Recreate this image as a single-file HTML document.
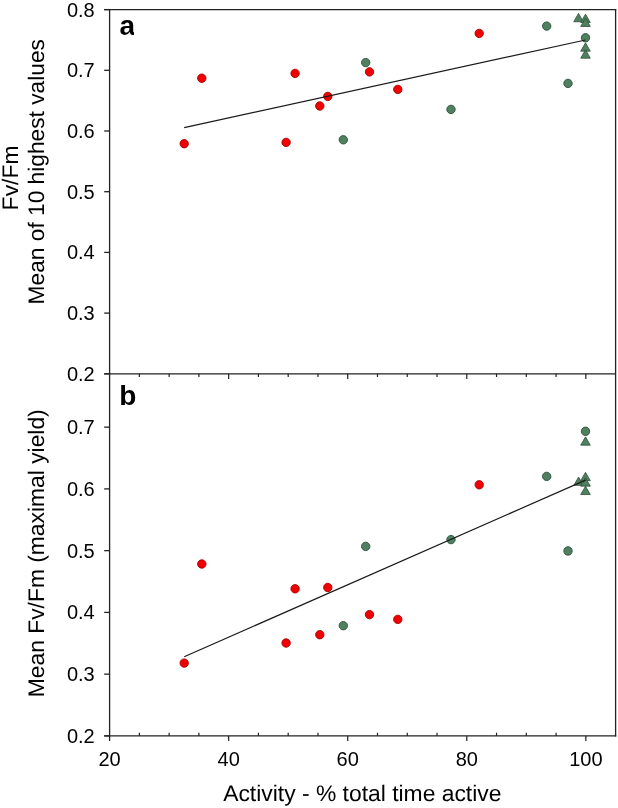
<!DOCTYPE html>
<html><head><meta charset="utf-8"><style>
html,body{margin:0;padding:0;background:#fff;width:618px;height:808px;overflow:hidden;}
svg{display:block;will-change:transform;}
text{font-family:"Liberation Sans",sans-serif;fill:#000;}
</style></head><body>
<svg width="618" height="808" viewBox="0 0 618 808">
<rect width="618" height="808" fill="#fff"/>
<line x1="104.20" y1="9.60" x2="616.30" y2="9.60" stroke="#222" stroke-width="1.3"/>
<line x1="615.60" y1="9.60" x2="615.60" y2="736.60" stroke="#222" stroke-width="1.3"/>
<line x1="109.60" y1="8.90" x2="109.60" y2="741.10" stroke="#222" stroke-width="1.3"/>
<line x1="104.20" y1="373.80" x2="615.60" y2="373.80" stroke="#222" stroke-width="1.3"/>
<line x1="104.20" y1="735.90" x2="616.30" y2="735.90" stroke="#222" stroke-width="1.3"/>
<line x1="104.20" y1="373.80" x2="109.60" y2="373.80" stroke="#222" stroke-width="1.3"/>
<text x="94.70" y="380.70" font-size="20" text-anchor="end" font-weight="normal" >0.2</text>
<line x1="104.20" y1="313.10" x2="109.60" y2="313.10" stroke="#222" stroke-width="1.3"/>
<text x="94.70" y="320.00" font-size="20" text-anchor="end" font-weight="normal" >0.3</text>
<line x1="104.20" y1="252.40" x2="109.60" y2="252.40" stroke="#222" stroke-width="1.3"/>
<text x="94.70" y="259.30" font-size="20" text-anchor="end" font-weight="normal" >0.4</text>
<line x1="104.20" y1="191.70" x2="109.60" y2="191.70" stroke="#222" stroke-width="1.3"/>
<text x="94.70" y="198.60" font-size="20" text-anchor="end" font-weight="normal" >0.5</text>
<line x1="104.20" y1="131.00" x2="109.60" y2="131.00" stroke="#222" stroke-width="1.3"/>
<text x="94.70" y="137.90" font-size="20" text-anchor="end" font-weight="normal" >0.6</text>
<line x1="104.20" y1="70.30" x2="109.60" y2="70.30" stroke="#222" stroke-width="1.3"/>
<text x="94.70" y="77.20" font-size="20" text-anchor="end" font-weight="normal" >0.7</text>
<line x1="104.20" y1="9.60" x2="109.60" y2="9.60" stroke="#222" stroke-width="1.3"/>
<text x="94.70" y="16.50" font-size="20" text-anchor="end" font-weight="normal" >0.8</text>
<line x1="104.20" y1="735.90" x2="109.60" y2="735.90" stroke="#222" stroke-width="1.3"/>
<text x="94.70" y="742.80" font-size="20" text-anchor="end" font-weight="normal" >0.2</text>
<line x1="104.20" y1="674.15" x2="109.60" y2="674.15" stroke="#222" stroke-width="1.3"/>
<text x="94.70" y="681.05" font-size="20" text-anchor="end" font-weight="normal" >0.3</text>
<line x1="104.20" y1="612.40" x2="109.60" y2="612.40" stroke="#222" stroke-width="1.3"/>
<text x="94.70" y="619.30" font-size="20" text-anchor="end" font-weight="normal" >0.4</text>
<line x1="104.20" y1="550.65" x2="109.60" y2="550.65" stroke="#222" stroke-width="1.3"/>
<text x="94.70" y="557.55" font-size="20" text-anchor="end" font-weight="normal" >0.5</text>
<line x1="104.20" y1="488.90" x2="109.60" y2="488.90" stroke="#222" stroke-width="1.3"/>
<text x="94.70" y="495.80" font-size="20" text-anchor="end" font-weight="normal" >0.6</text>
<line x1="104.20" y1="427.15" x2="109.60" y2="427.15" stroke="#222" stroke-width="1.3"/>
<text x="94.70" y="434.05" font-size="20" text-anchor="end" font-weight="normal" >0.7</text>
<line x1="139.37" y1="373.80" x2="139.37" y2="377.00" stroke="#222" stroke-width="1.2"/>
<line x1="139.37" y1="735.90" x2="139.37" y2="732.70" stroke="#222" stroke-width="1.2"/>
<line x1="169.13" y1="373.80" x2="169.13" y2="377.00" stroke="#222" stroke-width="1.2"/>
<line x1="169.13" y1="735.90" x2="169.13" y2="732.70" stroke="#222" stroke-width="1.2"/>
<line x1="198.89" y1="373.80" x2="198.89" y2="377.00" stroke="#222" stroke-width="1.2"/>
<line x1="198.89" y1="735.90" x2="198.89" y2="732.70" stroke="#222" stroke-width="1.2"/>
<line x1="228.66" y1="373.80" x2="228.66" y2="379.00" stroke="#222" stroke-width="1.2"/>
<line x1="228.66" y1="735.90" x2="228.66" y2="741.10" stroke="#222" stroke-width="1.2"/>
<line x1="258.43" y1="373.80" x2="258.43" y2="377.00" stroke="#222" stroke-width="1.2"/>
<line x1="258.43" y1="735.90" x2="258.43" y2="732.70" stroke="#222" stroke-width="1.2"/>
<line x1="288.19" y1="373.80" x2="288.19" y2="377.00" stroke="#222" stroke-width="1.2"/>
<line x1="288.19" y1="735.90" x2="288.19" y2="732.70" stroke="#222" stroke-width="1.2"/>
<line x1="317.96" y1="373.80" x2="317.96" y2="377.00" stroke="#222" stroke-width="1.2"/>
<line x1="317.96" y1="735.90" x2="317.96" y2="732.70" stroke="#222" stroke-width="1.2"/>
<line x1="347.72" y1="373.80" x2="347.72" y2="379.00" stroke="#222" stroke-width="1.2"/>
<line x1="347.72" y1="735.90" x2="347.72" y2="741.10" stroke="#222" stroke-width="1.2"/>
<line x1="377.49" y1="373.80" x2="377.49" y2="377.00" stroke="#222" stroke-width="1.2"/>
<line x1="377.49" y1="735.90" x2="377.49" y2="732.70" stroke="#222" stroke-width="1.2"/>
<line x1="407.25" y1="373.80" x2="407.25" y2="377.00" stroke="#222" stroke-width="1.2"/>
<line x1="407.25" y1="735.90" x2="407.25" y2="732.70" stroke="#222" stroke-width="1.2"/>
<line x1="437.01" y1="373.80" x2="437.01" y2="377.00" stroke="#222" stroke-width="1.2"/>
<line x1="437.01" y1="735.90" x2="437.01" y2="732.70" stroke="#222" stroke-width="1.2"/>
<line x1="466.78" y1="373.80" x2="466.78" y2="379.00" stroke="#222" stroke-width="1.2"/>
<line x1="466.78" y1="735.90" x2="466.78" y2="741.10" stroke="#222" stroke-width="1.2"/>
<line x1="496.54" y1="373.80" x2="496.54" y2="377.00" stroke="#222" stroke-width="1.2"/>
<line x1="496.54" y1="735.90" x2="496.54" y2="732.70" stroke="#222" stroke-width="1.2"/>
<line x1="526.31" y1="373.80" x2="526.31" y2="377.00" stroke="#222" stroke-width="1.2"/>
<line x1="526.31" y1="735.90" x2="526.31" y2="732.70" stroke="#222" stroke-width="1.2"/>
<line x1="556.08" y1="373.80" x2="556.08" y2="377.00" stroke="#222" stroke-width="1.2"/>
<line x1="556.08" y1="735.90" x2="556.08" y2="732.70" stroke="#222" stroke-width="1.2"/>
<line x1="585.84" y1="373.80" x2="585.84" y2="379.00" stroke="#222" stroke-width="1.2"/>
<line x1="585.84" y1="735.90" x2="585.84" y2="741.10" stroke="#222" stroke-width="1.2"/>
<text x="109.60" y="765.80" font-size="20" text-anchor="middle" font-weight="normal" >20</text>
<text x="228.66" y="765.80" font-size="20" text-anchor="middle" font-weight="normal" >40</text>
<text x="347.72" y="765.80" font-size="20" text-anchor="middle" font-weight="normal" >60</text>
<text x="466.78" y="765.80" font-size="20" text-anchor="middle" font-weight="normal" >80</text>
<text x="585.84" y="765.80" font-size="20" text-anchor="middle" font-weight="normal" >100</text>
<text x="362.30" y="801.40" font-size="22.5" text-anchor="middle" font-weight="normal" textLength="278.3" lengthAdjust="spacingAndGlyphs" text-rendering="geometricPrecision">Activity - % total time active</text>
<text transform="translate(18.00,177.90) rotate(-90)" font-size="22.5" text-anchor="middle" textLength="64.97" lengthAdjust="spacingAndGlyphs" text-rendering="geometricPrecision">Fv/Fm</text>
<text transform="translate(43.80,171.75) rotate(-90)" font-size="22.5" text-anchor="middle" textLength="265.4" lengthAdjust="spacingAndGlyphs" text-rendering="geometricPrecision">Mean of 10 highest values</text>
<text transform="translate(43.70,553.25) rotate(-90)" font-size="22.5" text-anchor="middle" textLength="287.9" lengthAdjust="spacingAndGlyphs" text-rendering="geometricPrecision">Mean Fv/Fm (maximal yield)</text>
<clipPath id="ca"><rect x="110" y="10" width="24.0" height="30"/></clipPath>
<text x="119.50" y="35.10" font-size="28" text-anchor="start" font-weight="bold" clip-path="url(#ca)">a</text>
<text x="119.30" y="405.40" font-size="28" text-anchor="start" font-weight="bold" >b</text>
<circle cx="343.30" cy="139.80" r="4.2" fill="#4f805f" stroke="#2e4f3a" stroke-width="0.9"/>
<circle cx="365.70" cy="62.60" r="4.2" fill="#4f805f" stroke="#2e4f3a" stroke-width="0.9"/>
<circle cx="451.00" cy="109.40" r="4.2" fill="#4f805f" stroke="#2e4f3a" stroke-width="0.9"/>
<circle cx="546.70" cy="26.10" r="4.2" fill="#4f805f" stroke="#2e4f3a" stroke-width="0.9"/>
<circle cx="568.00" cy="83.40" r="4.2" fill="#4f805f" stroke="#2e4f3a" stroke-width="0.9"/>
<circle cx="585.50" cy="37.80" r="4.2" fill="#4f805f" stroke="#2e4f3a" stroke-width="0.9"/>
<polygon points="578.50,13.44 583.30,21.76 573.70,21.76" fill="#4f805f" stroke="#2e4f3a" stroke-width="0.8" stroke-linejoin="miter"/>
<polygon points="585.50,14.14 590.30,22.46 580.70,22.46" fill="#4f805f" stroke="#2e4f3a" stroke-width="0.8" stroke-linejoin="miter"/>
<polygon points="585.50,18.14 590.30,26.46 580.70,26.46" fill="#4f805f" stroke="#2e4f3a" stroke-width="0.8" stroke-linejoin="miter"/>
<polygon points="585.50,42.84 590.30,51.16 580.70,51.16" fill="#4f805f" stroke="#2e4f3a" stroke-width="0.8" stroke-linejoin="miter"/>
<polygon points="585.50,49.84 590.30,58.16 580.70,58.16" fill="#4f805f" stroke="#2e4f3a" stroke-width="0.8" stroke-linejoin="miter"/>
<circle cx="184.20" cy="143.70" r="4.2" fill="#f00000" stroke="#a80000" stroke-width="0.9"/>
<circle cx="201.80" cy="78.20" r="4.2" fill="#f00000" stroke="#a80000" stroke-width="0.9"/>
<circle cx="286.10" cy="142.40" r="4.2" fill="#f00000" stroke="#a80000" stroke-width="0.9"/>
<circle cx="295.10" cy="73.40" r="4.2" fill="#f00000" stroke="#a80000" stroke-width="0.9"/>
<circle cx="319.80" cy="106.00" r="4.2" fill="#f00000" stroke="#a80000" stroke-width="0.9"/>
<circle cx="327.80" cy="96.40" r="4.2" fill="#f00000" stroke="#a80000" stroke-width="0.9"/>
<circle cx="369.50" cy="71.90" r="4.2" fill="#f00000" stroke="#a80000" stroke-width="0.9"/>
<circle cx="397.80" cy="89.40" r="4.2" fill="#f00000" stroke="#a80000" stroke-width="0.9"/>
<circle cx="479.20" cy="33.40" r="4.2" fill="#f00000" stroke="#a80000" stroke-width="0.9"/>
<line x1="184.20" y1="127.60" x2="585.50" y2="40.00" stroke="#1a1a1a" stroke-width="1.2"/>
<circle cx="343.30" cy="625.70" r="4.2" fill="#4f805f" stroke="#2e4f3a" stroke-width="0.9"/>
<circle cx="365.70" cy="546.40" r="4.2" fill="#4f805f" stroke="#2e4f3a" stroke-width="0.9"/>
<circle cx="451.00" cy="539.60" r="4.2" fill="#4f805f" stroke="#2e4f3a" stroke-width="0.9"/>
<circle cx="546.70" cy="476.40" r="4.2" fill="#4f805f" stroke="#2e4f3a" stroke-width="0.9"/>
<circle cx="568.00" cy="551.00" r="4.2" fill="#4f805f" stroke="#2e4f3a" stroke-width="0.9"/>
<circle cx="585.50" cy="431.30" r="4.2" fill="#4f805f" stroke="#2e4f3a" stroke-width="0.9"/>
<polygon points="585.50,436.84 590.30,445.16 580.70,445.16" fill="#4f805f" stroke="#2e4f3a" stroke-width="0.8" stroke-linejoin="miter"/>
<polygon points="585.50,472.34 590.30,480.66 580.70,480.66" fill="#4f805f" stroke="#2e4f3a" stroke-width="0.8" stroke-linejoin="miter"/>
<polygon points="578.60,477.04 583.40,485.36 573.80,485.36" fill="#4f805f" stroke="#2e4f3a" stroke-width="0.8" stroke-linejoin="miter"/>
<polygon points="585.50,477.84 590.30,486.16 580.70,486.16" fill="#4f805f" stroke="#2e4f3a" stroke-width="0.8" stroke-linejoin="miter"/>
<polygon points="585.50,486.24 590.30,494.56 580.70,494.56" fill="#4f805f" stroke="#2e4f3a" stroke-width="0.8" stroke-linejoin="miter"/>
<circle cx="184.20" cy="663.10" r="4.2" fill="#f00000" stroke="#a80000" stroke-width="0.9"/>
<circle cx="201.80" cy="564.00" r="4.2" fill="#f00000" stroke="#a80000" stroke-width="0.9"/>
<circle cx="286.10" cy="643.00" r="4.2" fill="#f00000" stroke="#a80000" stroke-width="0.9"/>
<circle cx="295.10" cy="588.80" r="4.2" fill="#f00000" stroke="#a80000" stroke-width="0.9"/>
<circle cx="319.80" cy="634.70" r="4.2" fill="#f00000" stroke="#a80000" stroke-width="0.9"/>
<circle cx="327.80" cy="587.50" r="4.2" fill="#f00000" stroke="#a80000" stroke-width="0.9"/>
<circle cx="369.50" cy="614.60" r="4.2" fill="#f00000" stroke="#a80000" stroke-width="0.9"/>
<circle cx="397.80" cy="619.40" r="4.2" fill="#f00000" stroke="#a80000" stroke-width="0.9"/>
<circle cx="479.20" cy="484.80" r="4.2" fill="#f00000" stroke="#a80000" stroke-width="0.9"/>
<line x1="184.20" y1="656.70" x2="585.60" y2="480.10" stroke="#1a1a1a" stroke-width="1.2"/>
</svg>
</body></html>
